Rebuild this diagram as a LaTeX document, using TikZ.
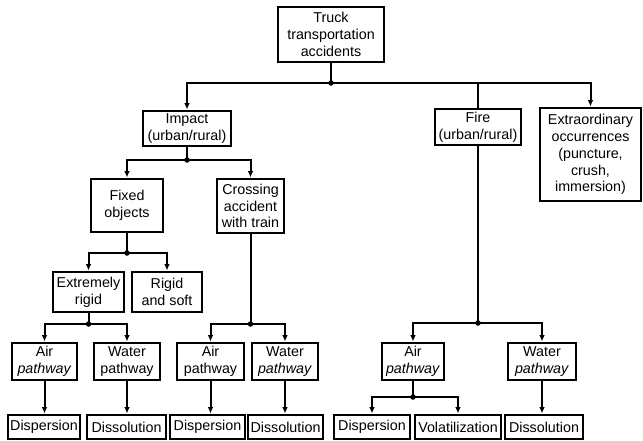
\documentclass[tikz,border=0pt]{standalone}
\usepackage{fontspec}
\setmainfont{Liberation Sans}
\usetikzlibrary{arrows.meta}
\begin{document}
\begin{tikzpicture}[x=1pt,y=-1pt,
  box/.style={draw,line width=2.8pt,inner sep=0pt,align=center,
    font=\fontsize{14.3}{16.8}\selectfont},
  conn/.style={line width=2pt},
  arr/.style={conn,-{Latex[length=6.5pt,width=5.5pt]}},
  jdot/.style={circle,fill,inner sep=0pt,minimum size=5.5pt}]
\useasboundingbox (0,0) rectangle (643,440);
\clip (0,0) rectangle (643,440);
% nodes
\node[box,minimum width=106pt,minimum height=55pt] (top) at (331,34.5) {Truck\\transportation\\accidents};
\node[box,minimum width=88pt,minimum height=35pt] (impact) at (187,128.5) {Impact\\(urban/rural)};
\node[box,minimum width=86pt,minimum height=36pt] (fire) at (478,127) {Fire\\(urban/rural)};
\node[box,minimum width=101pt,minimum height=93pt] (extra) at (590.5,154.5) {Extraordinary\\occurrences\\(puncture,\\crush,\\immersion)};
\node[box,minimum width=72pt,minimum height=53pt] (fixed) at (127,205.5) {Fixed\\objects};
\node[box,minimum width=67pt,minimum height=54pt] (crossing) at (250.5,206) {Crossing\\accident\\with train};
\node[box,minimum width=71pt,minimum height=40pt] (extreme) at (88.5,292) {Extremely\\rigid};
\node[box,minimum width=70pt,minimum height=40pt] (rigid) at (167,292) {Rigid\\and soft};
\node[box,minimum width=65pt,minimum height=37pt] (air1) at (44.5,361.5) {Air\\\textit{pathway}};
\node[box,minimum width=66pt,minimum height=37pt] (water1) at (127,361.5) {Water\\pathway};
\node[box,minimum width=67pt,minimum height=37pt] (air2) at (210.5,361.5) {Air\\pathway};
\node[box,minimum width=66pt,minimum height=37pt] (water2) at (285,361.5) {Water\\\textit{pathway}};
\node[box,minimum width=62pt,minimum height=37pt] (air3) at (413,361.5) {Air\\\textit{pathway}};
\node[box,minimum width=68pt,minimum height=37pt] (water3) at (542,361.5) {Water\\\textit{pathway}};
\node[box,minimum width=72pt,minimum height=24pt] (disp1) at (44,427) {Dispersion};
\node[box,minimum width=79pt,minimum height=24pt] (diss1) at (126.5,427) {Dissolution};
\node[box,minimum width=75pt,minimum height=24pt] (disp2) at (207.5,427) {Dispersion};
\node[box,minimum width=75pt,minimum height=24pt] (diss2) at (285.5,427) {Dissolution};
\node[box,minimum width=76pt,minimum height=24pt] (disp3) at (372,427) {Dispersion};
\node[box,minimum width=86pt,minimum height=24pt] (vol) at (458,427) {Volatilization};
\node[box,minimum width=78pt,minimum height=24pt] (diss3) at (544,427) {Dissolution};
% junctions
\node[jdot] (j0) at (331,83) {};
\node[jdot] (j1) at (187,160) {};
\node[jdot] (j2) at (127,253) {};
\node[jdot] (j3) at (88.5,324) {};
\node[jdot] (j4) at (250.5,324) {};
\node[jdot] (j5) at (478,323) {};
\node[jdot] (j6) at (413,397) {};
% connectors
\draw[conn] (top.south) -- (j0.center);
\draw[arr] (j0.center) -| (impact.north);
\draw[conn] (j0.center) -| (fire.north);
\draw[arr] (j0.center) -| (extra.north);
\draw[conn] (impact.south) -- (j1.center);
\draw[arr] (j1.center) -| (fixed.north);
\draw[arr] (j1.center) -| (crossing.north);
\draw[conn] (fixed.south) -- (j2.center);
\draw[arr] (j2.center) -| (extreme.north);
\draw[arr] (j2.center) -| (rigid.north);
\draw[conn] (extreme.south) -- (j3.center);
\draw[arr] (j3.center) -| (air1.north);
\draw[arr] (j3.center) -| (water1.north);
\draw[conn] (crossing.south) -- (j4.center);
\draw[arr] (j4.center) -| (air2.north);
\draw[arr] (j4.center) -| (water2.north);
\draw[conn] (fire.south) -- (j5.center);
\draw[arr] (j5.center) -| (air3.north);
\draw[arr] (j5.center) -| (water3.north);
\draw[conn] (air3.south) -- (j6.center);
\draw[arr] (j6.center) -| (disp3.north);
\draw[arr] (j6.center) -| (vol.north);
\draw[arr] (air1.south) -- (air1.south |- disp1.north);
\draw[arr] (water1.south) -- (water1.south |- diss1.north);
\draw[arr] (air2.south) -- (air2.south |- disp2.north);
\draw[arr] (water2.south) -- (water2.south |- diss2.north);
\draw[arr] (water3.south) -- (water3.south |- diss3.north);
\end{tikzpicture}
\end{document}
